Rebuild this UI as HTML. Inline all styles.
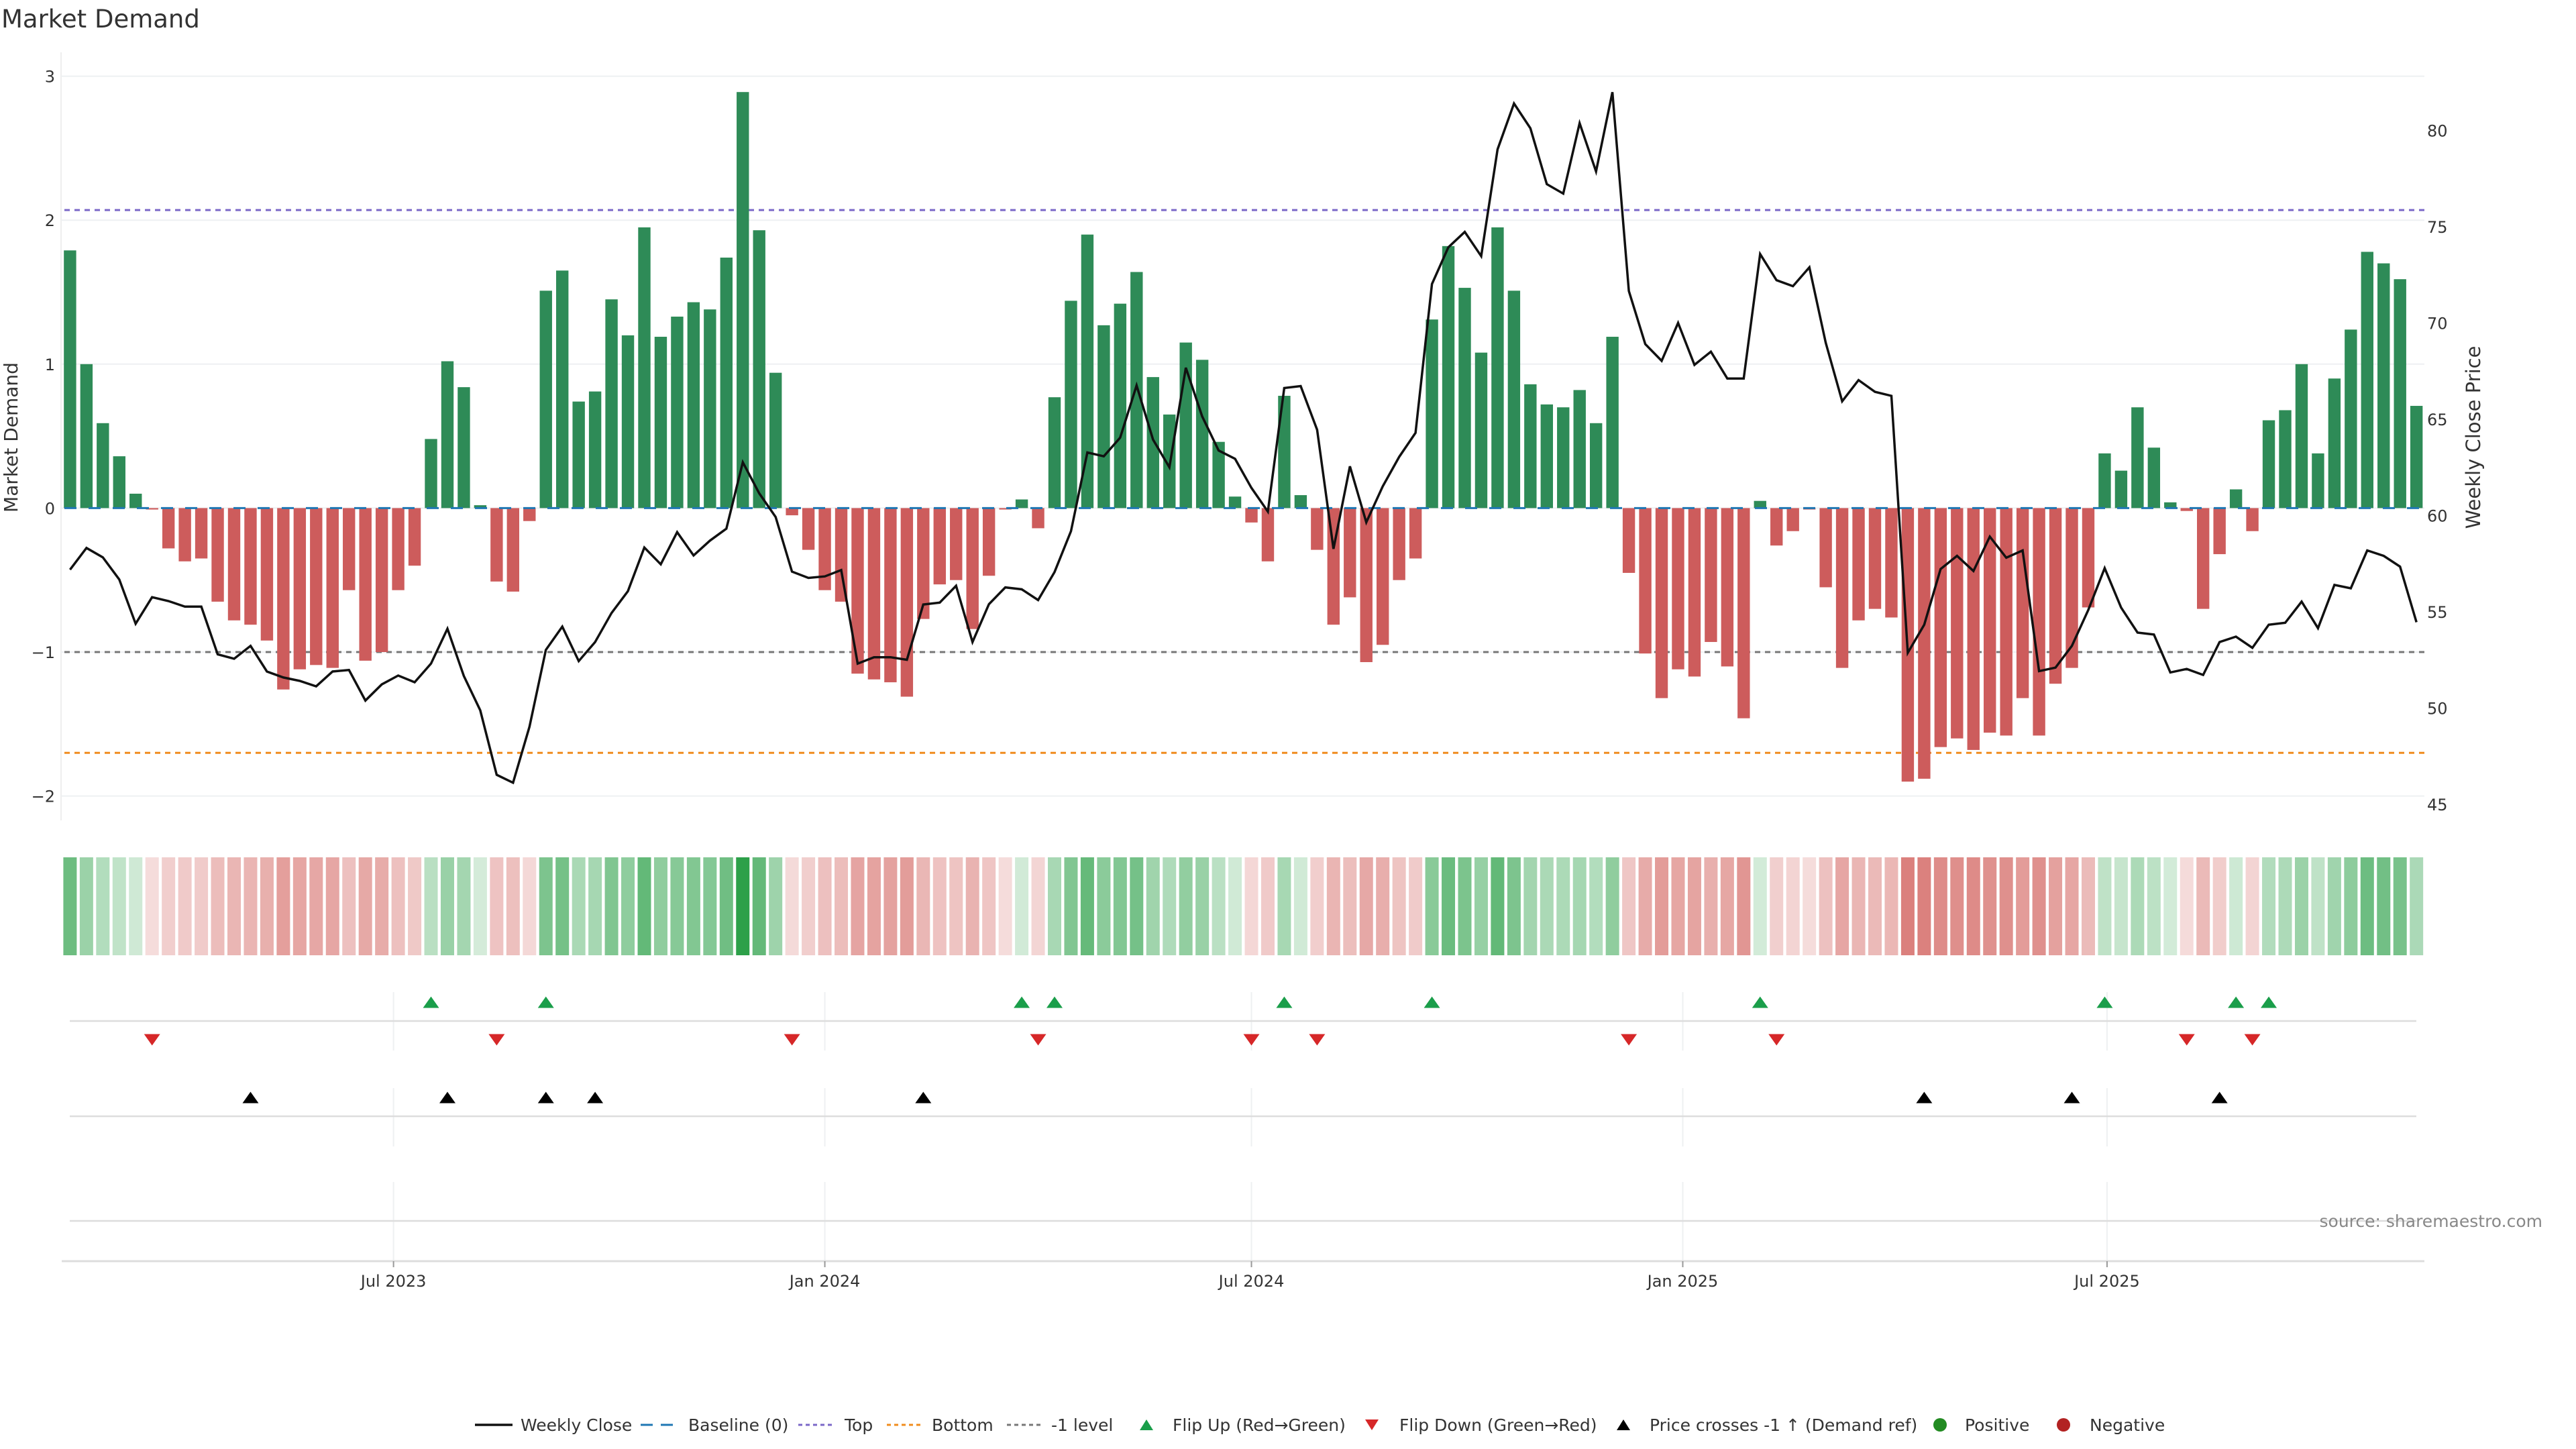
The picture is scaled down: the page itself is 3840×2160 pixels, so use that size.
<!DOCTYPE html>
<html><head><meta charset="utf-8"><title>Market Demand</title>
<style>
html,body{margin:0;padding:0;background:#fff;}
svg{display:block;font-family:"DejaVu Sans","Liberation Sans",sans-serif;}
</style></head>
<body>
<svg id="chart" xmlns="http://www.w3.org/2000/svg" width="3840" height="2160" viewBox="0 0 3840 2160">
<rect x="0" y="0" width="3840" height="2160" fill="#fff"/>
<text x="2" y="41" font-size="37" fill="#333">Market Demand</text>
<g id="main"></g>
<g id="heat"></g>
<g id="events"></g>
<g id="xaxis"></g>
<text x="3790" y="1829" font-size="25" fill="#888" text-anchor="end">source: sharemaestro.com</text>
<g id="legend"></g>
</svg>
<script>
const demand = [1.79,1.00,0.59,0.36,0.10,-0.01,-0.28,-0.37,-0.35,-0.65,-0.78,-0.81,-0.92,-1.26,-1.12,-1.09,-1.11,-0.57,-1.06,-1.00,-0.57,-0.40,0.48,1.02,0.84,0.02,-0.51,-0.58,-0.09,1.51,1.65,0.74,0.81,1.45,1.20,1.95,1.19,
1.33,1.43,1.38,1.74,2.89,1.93,0.94,-0.05,-0.29,-0.57,-0.65,-1.15,-1.19,-1.21,-1.31,-0.77,-0.53,-0.50,-0.84,-0.47,-0.01,0.06,-0.14,0.77,1.44,1.90,1.27,1.42,1.64,0.91,0.65,1.15,1.03,0.46,0.08,-0.10,
-0.37,0.78,0.09,-0.29,-0.81,-0.62,-1.07,-0.95,-0.50,-0.35,1.31,1.82,1.53,1.08,1.95,1.51,0.86,0.72,0.70,0.82,0.59,1.19,-0.45,-1.01,-1.32,-1.12,-1.17,-0.93,-1.10,-1.46,0.05,-0.26,-0.16,-0.01,-0.55,-1.11,
-0.78,-0.70,-0.76,-1.90,-1.88,-1.66,-1.60,-1.68,-1.56,-1.58,-1.32,-1.58,-1.22,-1.11,-0.69,0.38,0.26,0.70,0.42,0.04,-0.02,-0.70,-0.32,0.13,-0.16,0.61,0.68,1.00,0.38,0.90,1.24,1.78,1.70,1.59,0.71];
const price = [56.80,57.93,57.44,56.29,53.99,55.37,55.17,54.88,54.88,52.40,52.17,52.84,51.51,51.20,51.02,50.74,51.51,51.59,50.00,50.84,51.30,50.95,51.92,53.73,51.28,49.49,46.14,45.73,48.64,52.63,53.84,52.05,53.04,54.55,55.68,57.95,57.08,
58.75,57.54,58.31,58.93,62.38,60.77,59.54,56.70,56.37,56.45,56.78,51.92,52.25,52.25,52.12,54.99,55.09,55.96,53.04,55.01,55.88,55.78,55.22,56.68,58.80,62.89,62.69,63.66,66.37,63.56,62.12,67.29,64.76,62.99,62.56,61.05,
59.82,66.24,66.34,64.07,57.88,62.17,59.26,61.13,62.66,63.91,71.64,73.55,74.35,73.09,78.64,81.02,79.74,76.83,76.34,80.00,77.49,81.61,71.28,68.52,67.65,69.62,67.44,68.13,66.73,66.73,73.20,71.84,71.53,72.51,68.59,65.55,
66.65,66.04,65.83,52.48,53.94,56.83,57.52,56.73,58.52,57.42,57.80,51.53,51.71,52.84,54.71,56.88,54.83,53.53,53.43,51.46,51.64,51.33,53.04,53.32,52.74,53.94,54.04,55.14,53.76,56.01,55.83,57.80,57.52,56.96,54.07];
const startDate = "2023-02-13";
const demandTicks = [3,2,1,0,-1,-2];
const demandTickLabels = ["3","2","1","0","\u22121","\u22122"];
const priceTicks = [45,50,55,60,65,70,75,80];
const dateTicks = ["2023-07-01","2024-01-01","2024-07-01","2025-01-01","2025-07-01"];
const dateTickLabels = ["Jul 2023","Jan 2024","Jul 2024","Jan 2025","Jul 2025"];
const topLevel = 2.07;
const bottomLevel = -1.70;
const minusOneLevel = -1;
const priceRefLevel = 52.52;

const NS = "http://www.w3.org/2000/svg";
function mk(tag, parent, attrs){const e=document.createElementNS(NS,tag);for(const k in attrs)e.setAttribute(k,attrs[k]);parent.appendChild(e);return e;}
const X0=104.4, STEP=24.46, BW=18.4, PL=91, PR=3614;
const xi = i => X0 + i*STEP;
const yd = v => 757.4 - v*214.6;
const yp = p => 757.4 - (p-60)*28.69;
const d0 = new Date(startDate+"T00:00:00Z").getTime();
const xdate = s => X0 + (new Date(s+"T00:00:00Z").getTime()-d0)/(7*86400000)*STEP;

const main=document.getElementById('main');
// axis line left
let e=mk('line',main,{x1:PL,y1:78,x2:PL,y2:1223,stroke:'#eee','stroke-width':2});


demandTicks.forEach((v,k)=>{
  let g=mk('line',main,{x1:PL,y1:yd(v),x2:PR,y2:yd(v),stroke:'#eef0f2','stroke-width':2});
  
  
  let t=mk('text',main,{x:82,y:yd(v)+9,'font-size':24,fill:'#333','text-anchor':'end'});
  t.textContent=demandTickLabels[k];
  
  
});
priceTicks.forEach(p=>{
  let t=mk('text',main,{x:3618,y:yp(p)+20,'font-size':24,fill:'#333'});
  t.textContent=String(p);
  
  
});
let yt=mk('text',main,{x:0,y:0,'font-size':28,fill:'#333','text-anchor':'middle',transform:'translate(26,652) rotate(-90)'});
yt.textContent='Market Demand';


let yt2=mk('text',main,{x:0,y:0,'font-size':29,fill:'#333','text-anchor':'middle',transform:'translate(3697,652) rotate(-90)'});
yt2.textContent='Weekly Close Price';


// level lines
[[topLevel,'#7b68c8','top-line'],[minusOneLevel,'#777','minus-one-level-line'],[bottomLevel,'#f08c1e','bottom-line']].forEach(a=>{
  let l=mk('line',main,{x1:PL+5,y1:yd(a[0]),x2:PR,y2:yd(a[0]),stroke:a[1],'stroke-width':3,'stroke-dasharray':'8 7'});
  
  
});
// bars
demand.forEach((v,i)=>{
  const y0=yd(0), y1=yd(v);
  let r=mk('rect',main,{x:xi(i)-BW/2,y:Math.min(y0,y1),width:BW,height:Math.max(Math.abs(y1-y0),0.8),fill:v>=0?'#2e8b57':'#cd5c5c'});
  
  
});
let bl=mk('line',main,{x1:PL+5,y1:yd(0),x2:PR,y2:yd(0),stroke:'#1f77b4','stroke-width':3,'stroke-dasharray':'18 18'});


// price line
let pts=price.map((p,i)=>xi(i).toFixed(1)+','+yp(p).toFixed(1)).join(' ');
let pl=mk('polyline',main,{points:pts,fill:'none',stroke:'#111','stroke-width':3.5,'stroke-linejoin':'miter'});



// heat strip
const heat=document.getElementById('heat');
demand.forEach((v,i)=>{
  const a=0.2+0.8*Math.min(Math.abs(v)/2.9,1);
  const base=v>=0?[44,160,72]:[205,80,75];
  const c=base.map(b=>Math.round(255-(255-b)*a));
  let r=mk('rect',heat,{x:xi(i)-10,y:1278,width:20,height:146,fill:'rgb('+c.join(',')+')'});
  
  
});

// events
const ev=document.getElementById('events');
[[1479,1566],[1622,1709],[1762,1879]].forEach(s=>{
  dateTicks.forEach(d=>{
    let g=mk('line',ev,{x1:xdate(d),y1:s[0],x2:xdate(d),y2:s[1],stroke:'#eef0f2','stroke-width':2});
    
    
  });
});
[1522,1664,1820].forEach(y=>{
  let l=mk('line',ev,{x1:104,y1:y,x2:3602,y2:y,stroke:'#ddd','stroke-width':2.5});
  
  
});
function tri(x,y,up,color,name){
  const w=12,h=8.5;
  const p=up?[[x-w,y+h],[x+w,y+h],[x,y-h]]:[[x-w,y-h],[x+w,y-h],[x,y+h]];
  let t=mk('polygon',ev,{points:p.map(q=>q.join(',')).join(' '),fill:color});
  
  
}
for(let i=1;i<demand.length;i++){
  if(demand[i-1]<0&&demand[i]>=0) tri(xi(i),1494,true,'#1a9e4a','flip-up-marker');
  if(demand[i-1]>=0&&demand[i]<0) tri(xi(i),1550,false,'#d62728','flip-down-marker');
  if(price[i-1]<priceRefLevel&&price[i]>=priceRefLevel) tri(xi(i),1636,true,'#000','price-cross-marker');
}

// x axis
const xa=document.getElementById('xaxis');
let ax=mk('line',xa,{x1:92,y1:1880,x2:PR,y2:1880,stroke:'#ddd','stroke-width':3});


dateTicks.forEach((d,k)=>{
  let tk=mk('line',xa,{x1:xdate(d),y1:1880,x2:xdate(d),y2:1889,stroke:'#999','stroke-width':2});
  
  
  let t=mk('text',xa,{x:xdate(d),y:1918,'font-size':24,fill:'#333','text-anchor':'middle'});
  t.textContent=dateTickLabels[k];
  
  
});

// legend
const lg=document.getElementById('legend');
const LY=2124;
function ltext(x,s){let t=mk('text',lg,{x:x,y:LY+9,'font-size':25,fill:'#333'});t.textContent=s;}
function lline(x1,x2,color,dash,w){let l=mk('line',lg,{x1:x1,y1:LY,x2:x2,y2:LY,stroke:color,'stroke-width':w});if(dash)l.setAttribute('stroke-dasharray',dash);}
lline(708,764,'#111',null,3.5); ltext(776,'Weekly Close');
lline(955,1009,'#1f77b4','18 12',3); ltext(1026,'Baseline (0)');
lline(1190,1242,'#7b68c8','6 5',3); ltext(1259,'Top');
lline(1322,1372,'#f08c1e','6 5',3); ltext(1389,'Bottom');
lline(1501,1555,'#777','6 5',3); ltext(1567,'-1 level');
function ltri(x,up,color){const w=10,h=8;const p=up?[[x-w,LY+h],[x+w,LY+h],[x,LY-h]]:[[x-w,LY-h],[x+w,LY-h],[x,LY+h]];let t=mk('polygon',lg,{points:p.map(q=>q.join(',')).join(' '),fill:color});}
ltri(1709,true,'#1a9e4a'); ltext(1748,'Flip Up (Red\u2192Green)');
ltri(2045,false,'#d62728'); ltext(2086,'Flip Down (Green\u2192Red)');
ltri(2420,true,'#000'); ltext(2459,'Price crosses -1 \u2191 (Demand ref)');
let c1=mk('circle',lg,{cx:2892,cy:LY,r:10,fill:'#228b22'});  
ltext(2929,'Positive');
let c2=mk('circle',lg,{cx:3076,cy:LY,r:10,fill:'#b22222'});  
ltext(3115,'Negative');
</script>
</body></html>
